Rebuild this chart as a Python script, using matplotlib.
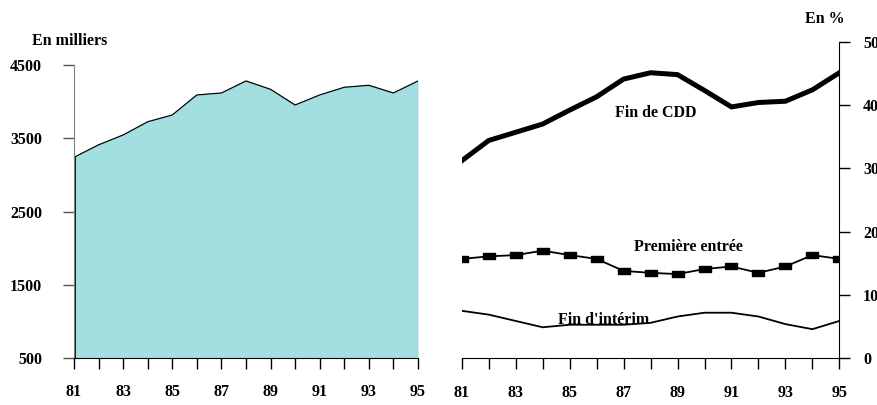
import numpy as np
import matplotlib.pyplot as plt
from matplotlib.path import Path

years = np.arange(81, 96)

# left panel, en milliers
effectif = [3240, 3410, 3545, 3725, 3818, 4091, 4118, 4282, 4168, 3954,
            4091, 4196, 4223, 4118, 4282]

# right panel, en %
fin_cdd = [31.2, 34.4, 35.7, 37.0, 39.2, 41.3, 44.1, 45.1, 44.8, 42.3,
           39.7, 40.4, 40.6, 42.4, 45.1]
premiere = [15.7, 16.1, 16.3, 17.0, 16.3, 15.7, 13.8, 13.5, 13.3, 14.1,
            14.5, 13.5, 14.5, 16.3, 15.7]
interim = [7.5, 6.9, 5.9, 4.9, 5.3, 5.3, 5.3, 5.6, 6.6, 7.2,
           7.2, 6.6, 5.4, 4.6, 5.9]

plt.rcParams['font.family'] = 'Liberation Serif'
plt.rcParams['font.weight'] = 'bold'
plt.rcParams['font.size'] = 11.5

fig = plt.figure(figsize=(8.77, 4.05), dpi=100)

# ---- left
ax1 = fig.add_axes([0.0844, 0.1160, 0.3922, 0.7235])
ax1.fill_between(years, 500, effectif, color='#a3dfe0', lw=0)
ax1.plot(years, effectif, color='black', lw=0.9)
ax1.plot([81, 81], [500, effectif[0]], color='black', lw=2)
ax1.plot([95, 95], [500, effectif[-1]], color='#808080', lw=0.8)
ax1.set_xlim(81, 95)
ax1.set_ylim(500, 4500)
ax1.set_yticks([500, 1500, 2500, 3500, 4500])
ax1.set_xticks(years)
ax1.set_xticklabels([str(y) if y % 2 == 1 else "" for y in years])
for s in ['top', 'right']:
    ax1.spines[s].set_visible(False)
ax1.spines['left'].set_color('#808080')
ax1.spines['bottom'].set_color('black')
ax1.tick_params(axis='x', direction='out', length=8, width=1, pad=11, color='black')
ax1.tick_params(axis='y', direction='out', length=8, width=1, pad=15, color='#555555')
fig.text(0.037, 0.898, "En milliers", fontweight='bold', va='center')

# ---- right
ax2 = fig.add_axes([0.5265, 0.1153, 0.4306, 0.7817])
ax2.plot(years, fin_cdd, color='black', lw=3.6, solid_joinstyle='miter')
rect = Path([(-1, -0.6), (1, -0.6), (1, 0.6), (-1, 0.6), (-1, -0.6)],
            [Path.MOVETO, Path.LINETO, Path.LINETO, Path.LINETO, Path.CLOSEPOLY])
ax2.plot(years, premiere, color='black', lw=1.3, marker=rect, markersize=8)
ax2.plot(years, interim, color='black', lw=1.3)
ax2.set_xlim(81, 95)
ax2.set_ylim(0, 50)
ax2.set_yticks([0, 10, 20, 30, 40, 50])
ax2.set_xticks(years)
ax2.set_xticklabels([str(y) if y % 2 == 1 else "" for y in years])
ax2.yaxis.tick_right()
for s in ['top', 'left']:
    ax2.spines[s].set_visible(False)
ax2.tick_params(axis='x', direction='out', length=8, width=1, pad=11)
ax2.tick_params(axis='y', direction='out', length=8, width=1, pad=9)
ax2.text(88.2, 38.7, "Fin de CDD", fontweight='bold', ha='center', va='center')
ax2.text(89.4, 17.6, "Première entrée", fontweight='bold', ha='center', va='center')
ax2.text(86.25, 6.1, "Fin d'intérim", fontweight='bold', ha='center', va='center', zorder=1)
fig.text(0.941, 0.953, "En %", fontweight='bold', ha='center', va='center')

fig.savefig("out.png", dpi=100)
